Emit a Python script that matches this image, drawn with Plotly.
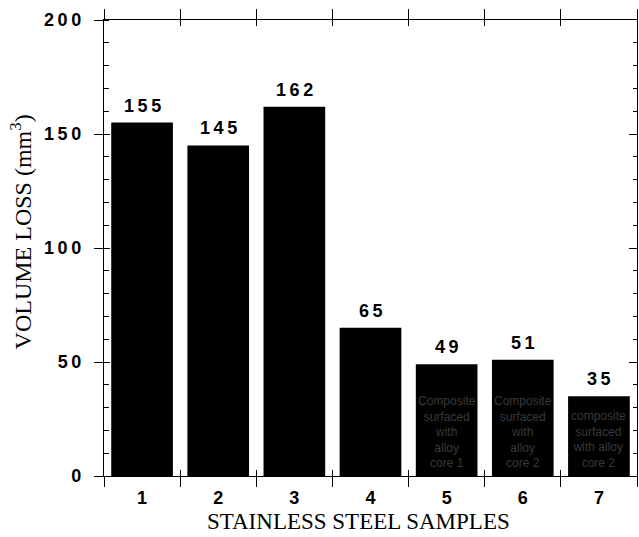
import plotly.graph_objects as go

# ---- data ----
samples = [1, 2, 3, 4, 5, 6, 7]
sample_labels = ["1", "2", "3", "4", "5", "6", "7"]
volume_loss = [155, 145, 162, 65, 49, 51, 35]
inner_labels = ["", "", "", "",
                "Composite<br>surfaced<br>with<br>alloy<br>core 1",
                "Composite<br>surfaced<br>with<br>alloy<br>core 2",
                "composite<br>surfaced<br>with alloy<br>core 2"]
y_major = [0, 50, 100, 150, 200]
x_title = "STAINLESS STEEL SAMPLES"
y_title = "VOLUME LOSS (mm<sup>3</sup>)"

THIN = "\u2009"
def spaced(s):
    return THIN.join(list(str(s)))

num_font = dict(family="Liberation Sans", size=18, color="black")
serif = dict(family="Liberation Serif", size=23, color="black")

boundaries = [s - 0.5 for s in samples] + [samples[-1] + 0.5]
xr = [samples[0] - 0.5, samples[-1] + 0.5]
yr = [0, 200]

fig = go.Figure()
fig.add_trace(go.Bar(x=samples, y=volume_loss, width=0.81,
                     marker=dict(color="black", line=dict(width=0)),
                     hoverinfo="skip", showlegend=False))
# dummy traces to register overlay axes
for xa, ya in [("x2", "y"), ("x3", "y"), ("x", "y2"), ("x", "y3")]:
    fig.add_trace(go.Scatter(x=[None], y=[None], xaxis=xa, yaxis=ya,
                             showlegend=False, hoverinfo="skip"))

common = dict(showgrid=False, zeroline=False)
fig.update_layout(
    width=639, height=537,
    margin=dict(l=104, r=2, t=20, b=61),
    paper_bgcolor="white", plot_bgcolor="white",
    bargap=0.19,
    xaxis=dict(range=xr, tickvals=boundaries, ticks="outside", ticklen=10,
               tickwidth=1.2, tickcolor="black", mirror="ticks",
               showline=True, linecolor="black", linewidth=1.3,
               showticklabels=False, **common),
    xaxis2=dict(overlaying="x", anchor="y", range=xr, tickvals=boundaries,
                ticks="inside", ticklen=6, tickwidth=1.2, tickcolor="black",
                mirror="ticks", showline=False, showticklabels=False, **common),
    xaxis3=dict(overlaying="x", anchor="y", range=xr, tickvals=samples,
                ticktext=sample_labels, ticks="", showline=False,
                tickfont=dict(num_font, weight="bold"),
                ticklabelstandoff=9, **common),
    yaxis=dict(range=yr, tickvals=y_major, ticktext=[spaced(v) for v in y_major],
               ticks="outside", ticklen=9, tickwidth=1.2, tickcolor="black",
               showline=True, linecolor="black", linewidth=1.3,
               tickfont=dict(num_font, weight="bold"), ticklabelstandoff=9,
               minor=dict(ticks="inside", dtick=10, ticklen=5, tickwidth=1,
                          tickcolor="black"),
               **common),
    yaxis2=dict(overlaying="y", anchor="x", side="left", range=yr,
                tickvals=y_major, ticks="inside", ticklen=6, tickwidth=1.2,
                tickcolor="black", showline=False, showticklabels=False,
                **common),
    yaxis3=dict(overlaying="y", anchor="x", side="right", range=yr,
                tickvals=y_major, ticks="inside", ticklen=8, tickwidth=1.2,
                tickcolor="black", showline=True, linecolor="black",
                linewidth=1.3, showticklabels=False,
                minor=dict(ticks="inside", dtick=10, ticklen=4, tickwidth=1,
                           tickcolor="black"),
                **common),
)

annotations = []
for s, v in zip(samples, volume_loss):
    annotations.append(dict(x=s, y=v, xref="x", yref="y", text=spaced(v),
                            showarrow=False, yanchor="bottom", yshift=5,
                            font=dict(num_font, weight="bold")))
for s, t in zip(samples, inner_labels):
    if t:
        annotations.append(dict(x=s, y=0, xref="x", yref="y", text=t,
                                showarrow=False, yanchor="bottom", yshift=4,
                                font=dict(family="Liberation Sans", size=12,
                                          color="#3a3a3a")))
annotations.append(dict(x=0.478, y=-0.1, xref="paper", yref="paper",
                        text=x_title, showarrow=False, xanchor="center",
                        yanchor="middle", font=serif))
annotations.append(dict(x=-0.155, y=0.535, xref="paper", yref="paper",
                        text=y_title, showarrow=False, textangle=-90,
                        xanchor="center", yanchor="middle",
                        font=dict(serif, size=24)))
fig.update_layout(annotations=annotations)

fig.write_html("out.html")
